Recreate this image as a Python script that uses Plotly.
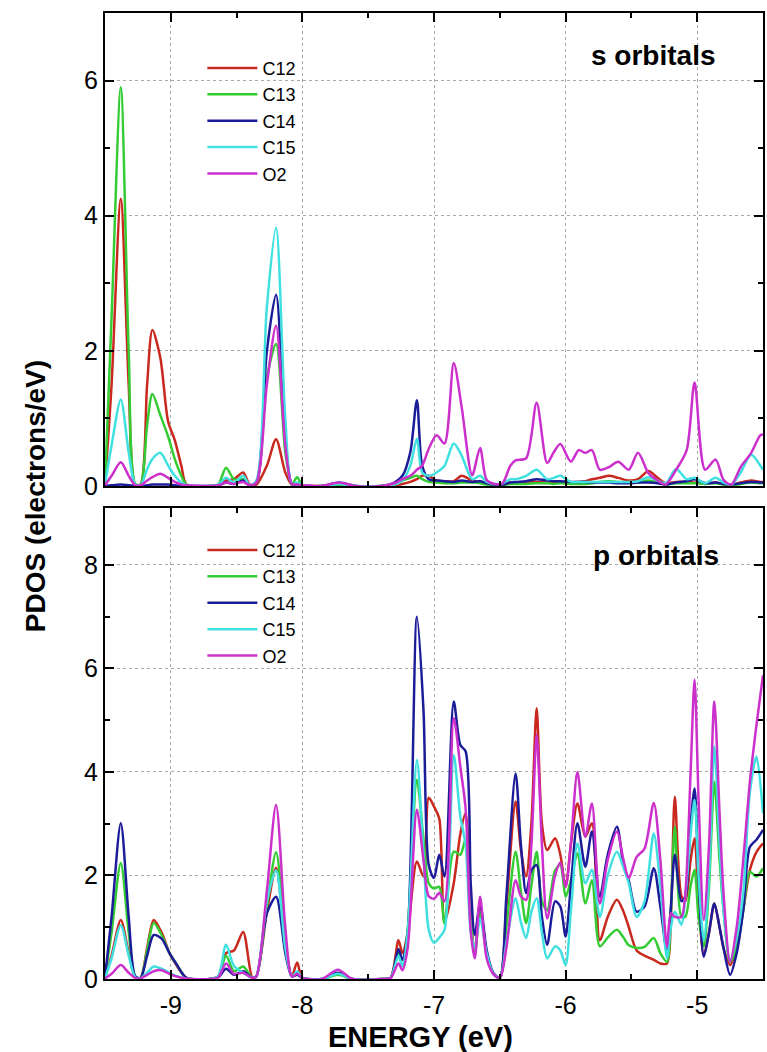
import plotly.graph_objects as go

# ---------------- data: s orbitals (top panel) ----------------
energy_s = [-9.50, -9.45, -9.38, -9.32, -9.27, -9.23, -9.18, -9.14, -9.08, -9.02,
            -8.97, -8.92, -8.88, -8.70, -8.64, -8.58, -8.52, -8.45, -8.40, -8.35,
            -8.27, -8.20, -8.13, -8.08, -8.04, -8.00, -7.85, -7.72, -7.60, -7.40,
            -7.30, -7.24, -7.18, -7.13, -7.09, -7.04, -6.98, -6.92, -6.85, -6.79,
            -6.71, -6.65, -6.60, -6.54, -6.48, -6.42, -6.38, -6.30, -6.22, -6.14,
            -6.09, -6.04, -5.96, -5.90, -5.85, -5.80, -5.74, -5.67, -5.60, -5.52,
            -5.45, -5.37, -5.30, -5.24, -5.16, -5.08, -5.02, -4.94, -4.86, -4.80,
            -4.74, -4.67, -4.59, -4.52, -4.50]
s_C12 = [0.02, 1.5, 4.25, 1.5, 0.02, 0.02, 1.5, 2.31, 1.9, 0.95,
         0.68, 0.3, 0.02, 0.0, 0.01, 0.08, 0.1, 0.2, 0.02, 0.02,
         0.3, 0.69, 0.2, 0.02, 0.03, 0.01, 0.0, 0.02, 0.0, 0.0,
         0.01, 0.03, 0.06, 0.1, 0.15, 0.15, 0.08, 0.07, 0.07, 0.15,
         0.08, 0.06, 0.04, 0.02, 0.02, 0.05, 0.05, 0.06, 0.06, 0.05,
         0.05, 0.06, 0.05, 0.06, 0.07, 0.1, 0.12, 0.15, 0.12, 0.08,
         0.1, 0.22, 0.12, 0.04, 0.06, 0.06, 0.05, 0.04, 0.05, 0.03,
         0.02, 0.05, 0.08, 0.06, 0.06]
s_C13 = [0.03, 2.5, 5.9, 2.0, 0.03, 0.02, 0.9, 1.36, 1.05, 0.73,
         0.4, 0.15, 0.02, 0.0, 0.02, 0.27, 0.1, 0.1, 0.01, 0.05,
         1.6, 2.1, 0.5, 0.03, 0.13, 0.01, 0.0, 0.02, 0.0, 0.0,
         0.02, 0.08, 0.12, 0.15, 0.1, 0.06, 0.05, 0.04, 0.04, 0.05,
         0.05, 0.04, 0.02, 0.01, 0.01, 0.03, 0.03, 0.03, 0.04, 0.04,
         0.03, 0.04, 0.03, 0.03, 0.03, 0.04, 0.06, 0.07, 0.06, 0.05,
         0.05, 0.08, 0.05, 0.02, 0.04, 0.04, 0.04, 0.03, 0.04, 0.02,
         0.01, 0.03, 0.05, 0.04, 0.04]
s_C14 = [0.0, 0.01, 0.02, 0.01, 0.0, 0.0, 0.01, 0.02, 0.02, 0.02,
         0.01, 0.0, 0.0, 0.0, 0.01, 0.05, 0.03, 0.08, 0.01, 0.05,
         2.0, 2.83, 0.7, 0.03, 0.03, 0.01, 0.0, 0.05, 0.0, 0.0,
         0.05, 0.15, 0.5, 1.27, 0.3, 0.1, 0.08, 0.07, 0.06, 0.08,
         0.06, 0.07, 0.04, 0.02, 0.02, 0.05, 0.06, 0.07, 0.1, 0.08,
         0.07, 0.07, 0.06, 0.06, 0.06, 0.05, 0.05, 0.05, 0.04, 0.04,
         0.05, 0.05, 0.04, 0.02, 0.05, 0.07, 0.1, 0.04, 0.05, 0.03,
         0.02, 0.04, 0.06, 0.05, 0.05]
s_C15 = [0.02, 0.6, 1.28, 0.5, 0.02, 0.01, 0.25, 0.4, 0.49, 0.3,
         0.15, 0.05, 0.01, 0.0, 0.02, 0.12, 0.05, 0.15, 0.01, 0.08,
         2.65, 3.82, 1.0, 0.03, 0.05, 0.01, 0.0, 0.03, 0.0, 0.0,
         0.02, 0.08, 0.3, 0.7, 0.2, 0.15, 0.2, 0.3, 0.63, 0.45,
         0.1, 0.15, 0.06, 0.03, 0.04, 0.1, 0.1, 0.15, 0.24, 0.1,
         0.12, 0.15, 0.06, 0.06, 0.06, 0.06, 0.06, 0.06, 0.06, 0.06,
         0.07, 0.13, 0.08, 0.04, 0.25, 0.1, 0.12, 0.04, 0.12, 0.05,
         0.02, 0.2, 0.46, 0.3, 0.24]
s_O2 = [0.01, 0.15, 0.35, 0.15, 0.01, 0.01, 0.08, 0.13, 0.18, 0.12,
        0.06, 0.02, 0.01, 0.0, 0.01, 0.05, 0.03, 0.06, 0.01, 0.05,
        1.5, 2.37, 0.6, 0.03, 0.02, 0.01, 0.0, 0.05, 0.0, 0.0,
        0.04, 0.1, 0.15, 0.24, 0.3, 0.55, 0.75, 0.63, 1.82, 1.17,
        0.16, 0.56, 0.09, 0.03, 0.04, 0.3, 0.38, 0.41, 1.23, 0.34,
        0.5, 0.62, 0.36, 0.53, 0.49, 0.53, 0.24, 0.28, 0.36, 0.24,
        0.49, 0.19, 0.08, 0.02, 0.24, 0.53, 1.53, 0.24, 0.39, 0.09,
        0.02, 0.28, 0.49, 0.75, 0.76]

# ---------------- data: p orbitals (bottom panel) ----------------
energy_p = [-9.50, -9.45, -9.38, -9.32, -9.27, -9.23, -9.18, -9.13, -9.07, -9.01,
            -8.96, -8.88, -8.70, -8.64, -8.58, -8.52, -8.45, -8.38, -8.35, -8.27,
            -8.20, -8.13, -8.08, -8.04, -8.00, -7.85, -7.73, -7.62, -7.40, -7.33,
            -7.27, -7.24, -7.20, -7.13, -7.08, -7.04, -7.00, -6.96, -6.92, -6.85,
            -6.80, -6.76, -6.72, -6.69, -6.65, -6.60, -6.55, -6.50, -6.45, -6.38,
            -6.34, -6.30, -6.26, -6.22, -6.18, -6.14, -6.08, -6.04, -6.00, -5.96,
            -5.91, -5.85, -5.80, -5.74, -5.68, -5.61, -5.56, -5.52, -5.46, -5.40,
            -5.33, -5.28, -5.23, -5.20, -5.17, -5.12, -5.09, -5.05, -5.02, -4.99,
            -4.95, -4.91, -4.87, -4.83, -4.80, -4.75, -4.70, -4.65, -4.60, -4.55,
            -4.50]
p_C12 = [0.02, 0.45, 1.14, 0.5, 0.03, 0.02, 0.6, 1.14, 0.9, 0.5,
         0.28, 0.02, 0.0, 0.05, 0.5, 0.55, 0.91, 0.03, 0.05, 1.3,
         2.15, 0.7, 0.05, 0.32, 0.02, 0.0, 0.1, 0.0, 0.0, 0.02,
         0.75, 0.5, 0.9, 2.27, 1.98, 3.5, 3.33, 3.1, 1.1, 1.85,
         2.8, 3.2, 1.2, 0.5, 1.4, 0.5, 0.1, 0.02, 1.4, 3.43,
         2.5, 1.98, 3.0, 5.23, 3.0, 2.49, 2.72, 2.4, 1.78, 2.6,
         3.39, 2.75, 3.01, 0.75, 1.2, 1.53, 1.3, 1.0, 0.55, 0.45,
         0.37, 0.3, 0.3, 1.2, 3.52, 1.6, 1.5, 2.3, 2.72, 1.5,
         0.46, 0.9, 1.46, 1.0, 0.6, 0.27, 0.6, 1.33, 2.1, 2.45,
         2.62]
p_C13 = [0.03, 0.9, 2.24, 0.9, 0.05, 0.02, 0.55, 1.08, 0.85, 0.5,
         0.3, 0.02, 0.0, 0.05, 0.45, 0.15, 0.24, 0.02, 0.05, 1.4,
         2.45, 0.8, 0.05, 0.12, 0.02, 0.0, 0.08, 0.0, 0.0, 0.02,
         0.5, 0.25, 0.95, 3.85, 2.7, 1.85, 1.75, 1.78, 1.07, 2.46,
         2.4, 2.7, 1.1, 0.5, 1.3, 0.5, 0.1, 0.02, 1.0, 2.46,
         1.7, 1.08, 1.8, 2.46, 1.5, 1.33, 2.1, 2.2, 1.59, 1.9,
         2.43, 1.46, 1.91, 0.63, 0.8, 0.95, 0.8, 0.65, 0.6, 0.62,
         0.79, 0.5, 0.33, 1.3, 2.94, 1.2, 1.2, 1.8, 2.11, 1.2,
         0.63, 1.8, 3.81, 2.3, 1.33, 0.33, 0.6, 1.33, 2.07, 1.98,
         2.14]
p_C14 = [0.03, 1.2, 3.01, 1.2, 0.05, 0.02, 0.45, 0.85, 0.78, 0.5,
         0.3, 0.02, 0.0, 0.03, 0.2, 0.08, 0.15, 0.02, 0.05, 1.27,
         1.59, 0.5, 0.05, 0.08, 0.02, 0.0, 0.12, 0.0, 0.0, 0.02,
         0.58, 0.37, 0.88, 7.0, 5.2, 2.2, 1.95, 2.4, 1.98, 5.36,
         4.52, 4.4, 1.8, 0.85, 1.46, 0.56, 0.12, 0.02, 1.6, 3.97,
         2.6, 1.66, 2.1, 2.2, 1.2, 0.66, 1.5, 1.4, 0.82, 1.8,
         3.01, 2.17, 2.85, 1.59, 2.4, 2.94, 2.2, 1.9, 1.3, 1.4,
         2.14, 1.4, 0.53, 1.4, 2.4, 1.5, 1.6, 3.0, 3.68, 2.0,
         0.43, 0.9, 1.46, 1.0, 0.6, 0.08, 0.5, 1.33, 2.55, 2.69,
         2.88]
p_C15 = [0.02, 0.4, 1.04, 0.45, 0.03, 0.01, 0.12, 0.24, 0.2, 0.12,
         0.06, 0.01, 0.0, 0.05, 0.66, 0.25, 0.12, 0.02, 0.05, 1.5,
         2.1, 0.6, 0.05, 0.15, 0.02, 0.0, 0.1, 0.0, 0.0, 0.02,
         0.45, 0.25, 0.9, 4.23, 2.4, 0.95, 0.7, 0.8, 0.95, 4.33,
         3.14, 2.6, 0.88, 0.6, 1.17, 0.5, 0.1, 0.02, 0.7, 1.56,
         1.1, 0.79, 1.3, 1.56, 0.9, 0.4, 0.63, 0.55, 0.27, 1.3,
         2.62, 1.85, 2.11, 1.2, 2.0, 2.46, 2.15, 1.85, 1.2, 1.5,
         2.81, 1.8, 0.4, 1.0, 1.3, 1.05, 1.6, 2.8, 3.46, 2.0,
         0.75, 2.0, 4.49, 2.6, 1.33, 0.37, 0.8, 1.66, 3.6, 4.3,
         3.2]
p_O2 = [0.01, 0.1, 0.27, 0.12, 0.02, 0.01, 0.08, 0.15, 0.17, 0.1,
        0.05, 0.01, 0.0, 0.03, 0.3, 0.1, 0.12, 0.02, 0.05, 1.7,
        3.36, 1.0, 0.05, 0.1, 0.02, 0.0, 0.18, 0.0, 0.0, 0.02,
        0.3, 0.17, 0.6, 3.27, 2.3, 1.6, 1.55, 1.66, 1.5, 5.04,
        4.1, 3.3, 0.9, 0.4, 1.59, 0.4, 0.1, 0.02, 0.6, 1.91,
        1.6, 1.53, 2.6, 4.72, 2.6, 1.17, 2.0, 2.25, 1.78, 2.6,
        4.0, 2.75, 3.39, 1.46, 2.3, 2.85, 2.3, 1.95, 2.36, 2.52,
        3.4, 2.3, 0.63, 1.27, 1.2, 1.2, 1.66, 4.0, 5.78, 3.5,
        1.14, 2.6, 5.36, 3.2, 1.66, 0.33, 1.0, 2.3, 3.8, 4.9,
        5.87]

series_names = ["C12", "C13", "C14", "C15", "O2"]
series_colors = ["#c8281e", "#33cc33", "#1c1c9a", "#40e0e0", "#cc30cc"]
s_series = [s_C12, s_C13, s_C14, s_C15, s_O2]
p_series = [p_C12, p_C13, p_C14, p_C15, p_O2]

x_tickvals = [-9, -8, -7, -6, -5]
x_ticktext = ["-9", "-8", "-7", "-6", "-5"]
x_minor = [-9.5, -8.5, -7.5, -6.5, -5.5]
ys_tickvals = [0, 2, 4, 6]
ys_minor = [1, 3, 5]
yp_tickvals = [0, 2, 4, 6, 8]
yp_minor = [1, 3, 5, 7]

FONT = "Liberation Sans, Arial"

fig = go.Figure()
for name, color, vals in zip(series_names, series_colors, s_series):
    fig.add_trace(go.Scatter(x=energy_s, y=vals, name=name, mode="lines",
                             line=dict(color=color, width=2.5, shape="spline", smoothing=0.8),
                             xaxis="x2", yaxis="y2", legend="legend"))
for name, color, vals in zip(series_names, series_colors, p_series):
    fig.add_trace(go.Scatter(x=energy_p, y=vals, name=name, mode="lines",
                             line=dict(color=color, width=2.5, shape="spline", smoothing=0.8),
                             xaxis="x", yaxis="y", legend="legend2"))

axis_common = dict(showline=True, linecolor="black", linewidth=2, mirror="allticks",
                   ticks="inside", ticklen=9, tickwidth=2, tickcolor="black",
                   showgrid=True, gridcolor="#a8a8a8", griddash="dot", gridwidth=1,
                   zeroline=False,
                   tickfont=dict(family=FONT, size=25, color="black"))
minor_style = dict(ticks="inside", ticklen=5, tickwidth=2, tickcolor="black", showgrid=False)

legend_style = dict(xanchor="left", yanchor="top", bgcolor="rgba(0,0,0,0)", itemwidth=50,
                    font=dict(family=FONT, size=18, color="black"))

fig.update_layout(
    width=767, height=1052,
    margin=dict(l=105, r=2, t=13, b=73),
    paper_bgcolor="white", plot_bgcolor="white",
    showlegend=True,
    xaxis=dict(axis_common, domain=[0, 1], range=[-9.5, -4.5], anchor="y",
               tickmode="array", tickvals=x_tickvals, ticktext=x_ticktext,
               ticklabelstandoff=3,
               minor=dict(minor_style, tickvals=x_minor)),
    yaxis=dict(axis_common, domain=[0, 0.4876], range=[0, 9.1], anchor="x",
               tickmode="array", tickvals=yp_tickvals,
               minor=dict(minor_style, tickvals=yp_minor)),
    xaxis2=dict(axis_common, domain=[0, 1], range=[-9.5, -4.5], anchor="y2",
                tickmode="array", tickvals=x_tickvals, showticklabels=False,
                minor=dict(minor_style, tickvals=x_minor)),
    yaxis2=dict(axis_common, domain=[0.5104, 1], range=[0, 7], anchor="x2",
                tickmode="array", tickvals=ys_tickvals,
                minor=dict(minor_style, tickvals=ys_minor)),
    legend=dict(legend_style, x=0.148, y=0.962),
    legend2=dict(legend_style, x=0.148, y=0.463),
    annotations=[
        dict(text="<b>s orbitals</b>", xref="x2 domain", yref="y2 domain", x=0.833, y=0.911,
             xanchor="center", yanchor="middle", showarrow=False,
             font=dict(family=FONT, size=28, color="black")),
        dict(text="<b>p orbitals</b>", xref="x domain", yref="y domain", x=0.838, y=0.90,
             xanchor="center", yanchor="middle", showarrow=False,
             font=dict(family=FONT, size=28, color="black")),
        dict(text="<b>PDOS (electrons/eV)</b>", xref="paper", yref="paper", x=-0.106, y=0.5,
             xanchor="center", yanchor="middle", textangle=-90, showarrow=False,
             font=dict(family=FONT, size=28, color="black")),
        dict(text="<b>ENERGY (eV)</b>", xref="paper", yref="paper", x=0.479, y=-0.060,
             xanchor="center", yanchor="middle", showarrow=False,
             font=dict(family=FONT, size=29, color="black")),
    ],
)

fig.write_html("out.html")
